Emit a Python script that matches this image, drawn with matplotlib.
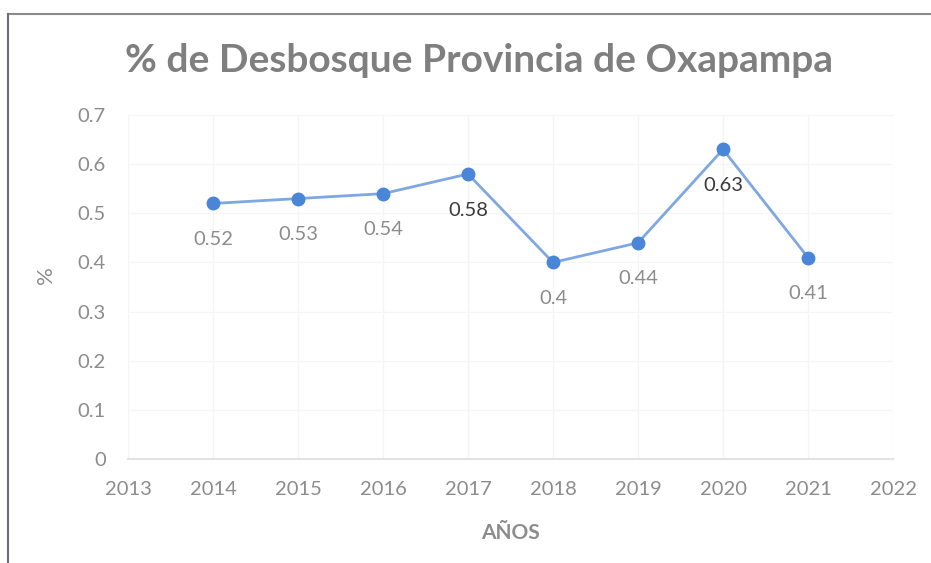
import matplotlib
matplotlib.use("Agg")
import matplotlib.pyplot as plt
from matplotlib.lines import Line2D

# data
years = [2014, 2015, 2016, 2017, 2018, 2019, 2020, 2021]
desbosque = [0.52, 0.53, 0.54, 0.58, 0.40, 0.44, 0.63, 0.41]
x_ticks = list(range(2013, 2023))
y_ticks = [0, 0.1, 0.2, 0.3, 0.4, 0.5, 0.6, 0.7]

plt.rcParams['font.family'] = ['Lato', 'DejaVu Sans']

GRAY = '#8c8c8c'
DARK = '#3a3a3a'

fig = plt.figure(figsize=(9.31, 5.63), dpi=100)
fig.patch.set_facecolor('white')
ax = fig.add_axes([0.1375, 0.1847, 0.8217, 0.611])

ax.plot(years, desbosque, color='#7fa8e2', lw=2, marker='o',
        markersize=9, markerfacecolor='#4a86d8', markeredgecolor='#4a86d8', zorder=3)

# data labels below the points, two of them darker like in the scan
dark_years = [2017, 2020]
for yr, v in zip(years, desbosque):
    c = DARK if yr in dark_years else GRAY
    ax.annotate(f"{v:g}", (yr, v), xytext=(0, -26), textcoords='offset points',
                ha='center', va='center', fontsize=14.5, color=c)

ax.set_xlim(2013, 2022)
ax.set_ylim(0, 0.7)
ax.set_xticks(x_ticks)
ax.set_yticks(y_ticks)
ax.set_yticklabels([f"{t:g}" for t in y_ticks])
ax.tick_params(axis='both', length=0, labelsize=14.5, labelcolor=GRAY)
ax.tick_params(axis='x', pad=16)
ax.tick_params(axis='y', pad=16)

ax.grid(True, color='#f5f5f5', lw=1)
ax.set_axisbelow(True)
for s in ['top', 'right', 'left']:
    ax.spines[s].set_visible(False)
ax.spines['bottom'].set_color('#e2e2e2')
ax.spines['bottom'].set_linewidth(1.5)

ax.set_xlabel('AÑOS', fontsize=15, fontweight='bold', color=GRAY, labelpad=18)
ax.set_ylabel('%', fontsize=16, color=GRAY)
ax.yaxis.set_label_coords(-0.094, 0.535)

fig.text(0.514, 0.893, '% de Desbosque Provincia de Oxapampa', ha='center', va='center',
         fontsize=28, fontweight='bold', color='#7f7f7f')

# scanned frame: top and left edges only
fig.add_artist(Line2D([0.0086, 1.0], [0.975, 0.975], transform=fig.transFigure,
                      color='#8a8a8a', lw=1.5))
fig.add_artist(Line2D([0.0086, 0.0086], [0.0, 0.975], transform=fig.transFigure,
                      color='#6e6e7a', lw=1.5))

fig.savefig('out.png', dpi=100, facecolor='white')
